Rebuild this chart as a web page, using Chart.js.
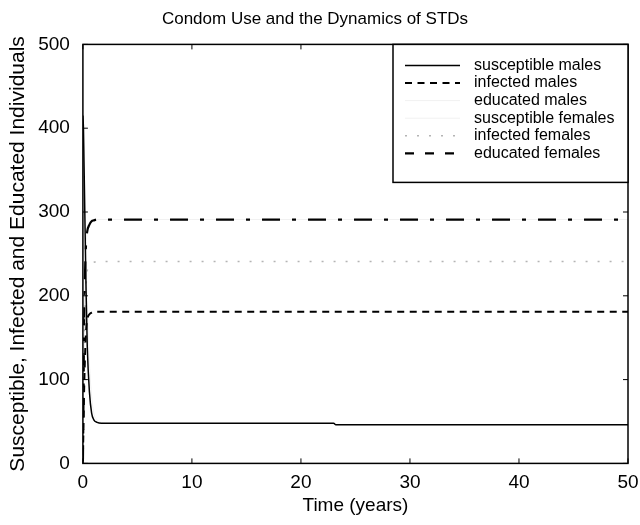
<!DOCTYPE html>
<html>
<head>
<meta charset="utf-8">
<script src="https://cdn.jsdelivr.net/npm/chart.js@4/dist/chart.umd.min.js"></script>
<style>
  html, body { margin: 0; padding: 0; background: #fff; }
  #wrap { width: 640px; height: 525px; position: relative; }
</style>
</head>
<body>
<div id="wrap"><canvas id="graphCanvas"></canvas></div>
<script>
// time points (years) and the six populations
var years = [0, 0.05, 0.1, 0.2, 0.3, 0.4, 0.6, 0.8, 1.0, 1.3, 1.7, 2.5, 5, 10, 15, 20, 23, 23.2, 30, 40, 50];
var susceptibleMales   = [415, 400, 360, 280, 200, 140, 85, 60, 52, 49, 48, 48, 48, 48, 48, 48, 48, 46, 46, 46, 46];
var infectedMales      = [10, 40, 80, 130, 160, 172, 178, 180, 181, 181, 181, 181, 181, 181, 181, 181, 181, 181, 181, 181, 181];
var educatedMales      = [0, 60, 130, 220, 262, 276, 284, 288, 290, 291, 291, 291, 291, 291, 291, 291, 291, 291, 291, 291, 291];
var susceptibleFemales = [60, 90, 140, 200, 230, 190, 120, 80, 60, 52, 49, 48, 48, 48, 48, 48, 48, 46, 46, 46, 46];
var infectedFemales    = [0, 50, 110, 180, 215, 230, 236, 239, 240, 241, 241, 241, 241, 241, 241, 241, 241, 241, 241, 241, 241];
var educatedFemales    = [0, 70, 150, 230, 264, 277, 285, 289, 290, 291, 291, 291, 291, 291, 291, 291, 291, 291, 291, 291, 291];

var xTicks = [0, 10, 20, 30, 40, 50];
var yTicks = [0, 100, 200, 300, 400, 500];

var FONT = '"Liberation Sans", Arial, sans-serif';

function pts(vals) {
    var out = [];
    for (var i in years) {
        out.push({ x: years[i], y: vals[i] });
    }
    return out;
}

function serie(label, vals, color, dash, width) {
    return {
        label: label,
        data: pts(vals),
        borderColor: color,
        backgroundColor: color,
        borderDash: dash,
        borderWidth: width,
        pointRadius: 0,
        fill: false,
        cubicInterpolationMode: 'monotone'
    };
}

// legend box inside the plot, top right, plus the closed frame
var boxPlugin = {
    id: 'matlabBox',
    afterDatasetsDraw: function (chart) {
        var ctx = chart.ctx, a = chart.chartArea;
        ctx.save();
        ctx.strokeStyle = '#000';
        ctx.lineWidth = 1.5;
        ctx.setLineDash([]);
        ctx.strokeRect(a.left, a.top, a.right - a.left, a.bottom - a.top);

        // inward tick marks
        var xs = chart.scales.x, ys = chart.scales.y;
        ctx.lineWidth = 1;
        xTicks.forEach(function (v) {
            var px = xs.getPixelForValue(v);
            ctx.beginPath(); ctx.moveTo(px, a.bottom); ctx.lineTo(px, a.bottom - 5); ctx.stroke();
            ctx.beginPath(); ctx.moveTo(px, a.top); ctx.lineTo(px, a.top + 5); ctx.stroke();
        });
        yTicks.forEach(function (v) {
            var py = ys.getPixelForValue(v);
            ctx.beginPath(); ctx.moveTo(a.left, py); ctx.lineTo(a.left + 5, py); ctx.stroke();
            ctx.beginPath(); ctx.moveTo(a.right, py); ctx.lineTo(a.right - 5, py); ctx.stroke();
        });

        // legend
        var lx = 393, ly = a.top, lw = a.right - 393, lh = 138;
        ctx.fillStyle = '#fff';
        ctx.fillRect(lx, ly, lw, lh);
        ctx.lineWidth = 1.5;
        ctx.strokeRect(lx, ly, lw, lh);
        ctx.font = '16px ' + FONT;
        ctx.textBaseline = 'middle';
        chart.data.datasets.forEach(function (ds, i) {
            var yy = ly + 21 + i * 17.6;
            ctx.strokeStyle = ds.legendColor || ds.borderColor;
            ctx.lineWidth = ds.borderWidth;
            ctx.setLineDash(ds.legendDash || ds.borderDash);
            ctx.beginPath(); ctx.moveTo(405, yy); ctx.lineTo(460, yy); ctx.stroke();
            ctx.setLineDash([]);
            ctx.fillStyle = '#000';
            ctx.fillText(ds.label, 474, yy);
        });
        ctx.restore();
    }
};

var datasets = [
    serie('susceptible males', susceptibleMales, '#000', [], 1.5),
    serie('infected males', infectedMales, '#000', [7, 5.5], 2),
    serie('educated males', educatedMales, 'rgba(0,0,0,0.06)', [], 1),
    serie('susceptible females', susceptibleFemales, 'rgba(0,0,0,0.06)', [], 1),
    serie('infected females', infectedFemales, '#b4b4b4', [2, 10], 1.5),
    serie('educated females', educatedFemales, '#000', [18, 12, 4, 12], 2.2)
];
datasets[5].legendDash = [9, 11];

new Chart(document.getElementById('graphCanvas'), {
    type: 'line',
    data: { datasets: datasets },
    plugins: [boxPlugin],
    options: {
        responsive: true,
        maintainAspectRatio: false,
        animation: false,
        layout: { padding: { left: 2, right: 12, top: 4, bottom: 8 } },
        plugins: {
            legend: { display: false },
            tooltip: { enabled: false },
            title: {
                display: true,
                text: 'Condom Use and the Dynamics of STDs',
                color: '#000',
                font: { family: FONT, size: 17, weight: 'normal' },
                padding: { top: 5, bottom: 15 }
            }
        },
        scales: {
            x: {
                type: 'linear',
                min: 0,
                max: 50,
                afterBuildTicks: function (axis) { axis.ticks = xTicks.map(function (v) { return { value: v }; }); },
                grid: { display: false },
                border: { display: false },
                ticks: { color: '#000', font: { family: FONT, size: 19 }, padding: 0, maxRotation: 0 },
                title: { display: true, text: 'Time (years)', color: '#000', font: { family: FONT, size: 19 }, padding: { top: 0, bottom: 0 } }
            },
            y: {
                min: 0,
                max: 500,
                afterBuildTicks: function (axis) { axis.ticks = yTicks.map(function (v) { return { value: v }; }); },
                grid: { display: false },
                border: { display: false },
                ticks: { color: '#000', font: { family: FONT, size: 19 }, padding: 5 },
                title: { display: true, text: 'Susceptible, Infected and Educated Individuals', color: '#000', font: { family: FONT, size: 21 }, padding: { bottom: 2 } }
            }
        }
    }
});
</script>
</body>
</html>
